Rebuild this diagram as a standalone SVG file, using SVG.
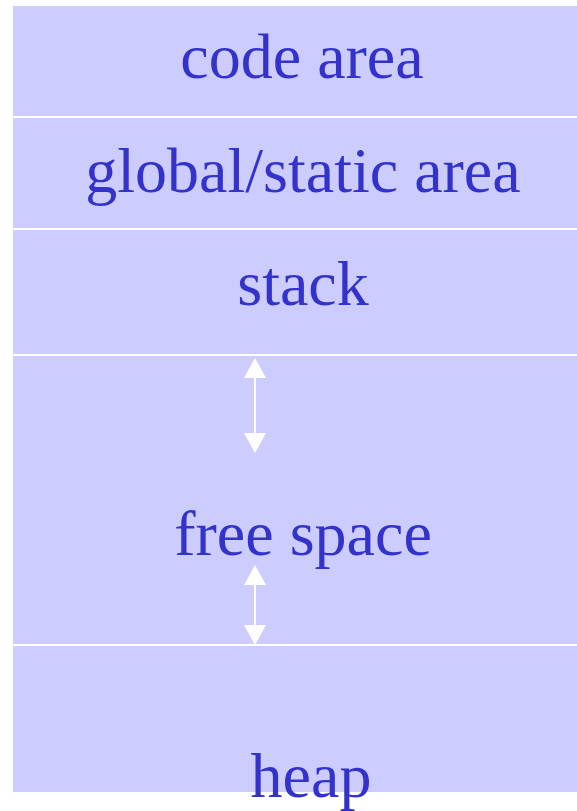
<svg xmlns="http://www.w3.org/2000/svg" width="577" height="811" viewBox="0 0 577 811">
<style>
.box{fill:#CCCCFF;stroke:#FFFFFF;stroke-width:2}
.lbl{font-family:"Liberation Serif","Times New Roman",serif;font-size:64px;fill:#3333CC;text-anchor:middle}
.arr{stroke:#FFFFFF;stroke-width:2;fill:none}
.head{fill:#FFFFFF}
</style>
<rect width="577" height="811" fill="#FFFFFF"/>
<g id="code"><rect class="box" x="12" y="5" width="567" height="112"/><text class="lbl" x="302" y="78">code area</text></g>
<g id="global"><rect class="box" x="12" y="117" width="567" height="112"/><text class="lbl" x="303" y="192">global/static area</text></g>
<g id="stack"><rect class="box" x="12" y="229" width="567" height="126"/><text class="lbl" x="303" y="305">stack</text></g>
<g id="free"><rect class="box" x="12" y="355" width="567" height="290"/><text class="lbl" x="303" y="555">free space</text></g>
<g id="heap"><rect class="box" x="12" y="645" width="567" height="148"/><text class="lbl" x="311" y="797">heap</text></g>
<g id="connectors">
<line class="arr" x1="255" y1="370" x2="255" y2="440"/>
<polygon class="head" points="255,358 244,378 266,378"/>
<polygon class="head" points="255,453 244,433 266,433"/>
<line class="arr" x1="255" y1="578" x2="255" y2="632"/>
<polygon class="head" points="255,565 244,585 266,585"/>
<polygon class="head" points="255,645 244,625 266,625"/>
</g>
</svg>
